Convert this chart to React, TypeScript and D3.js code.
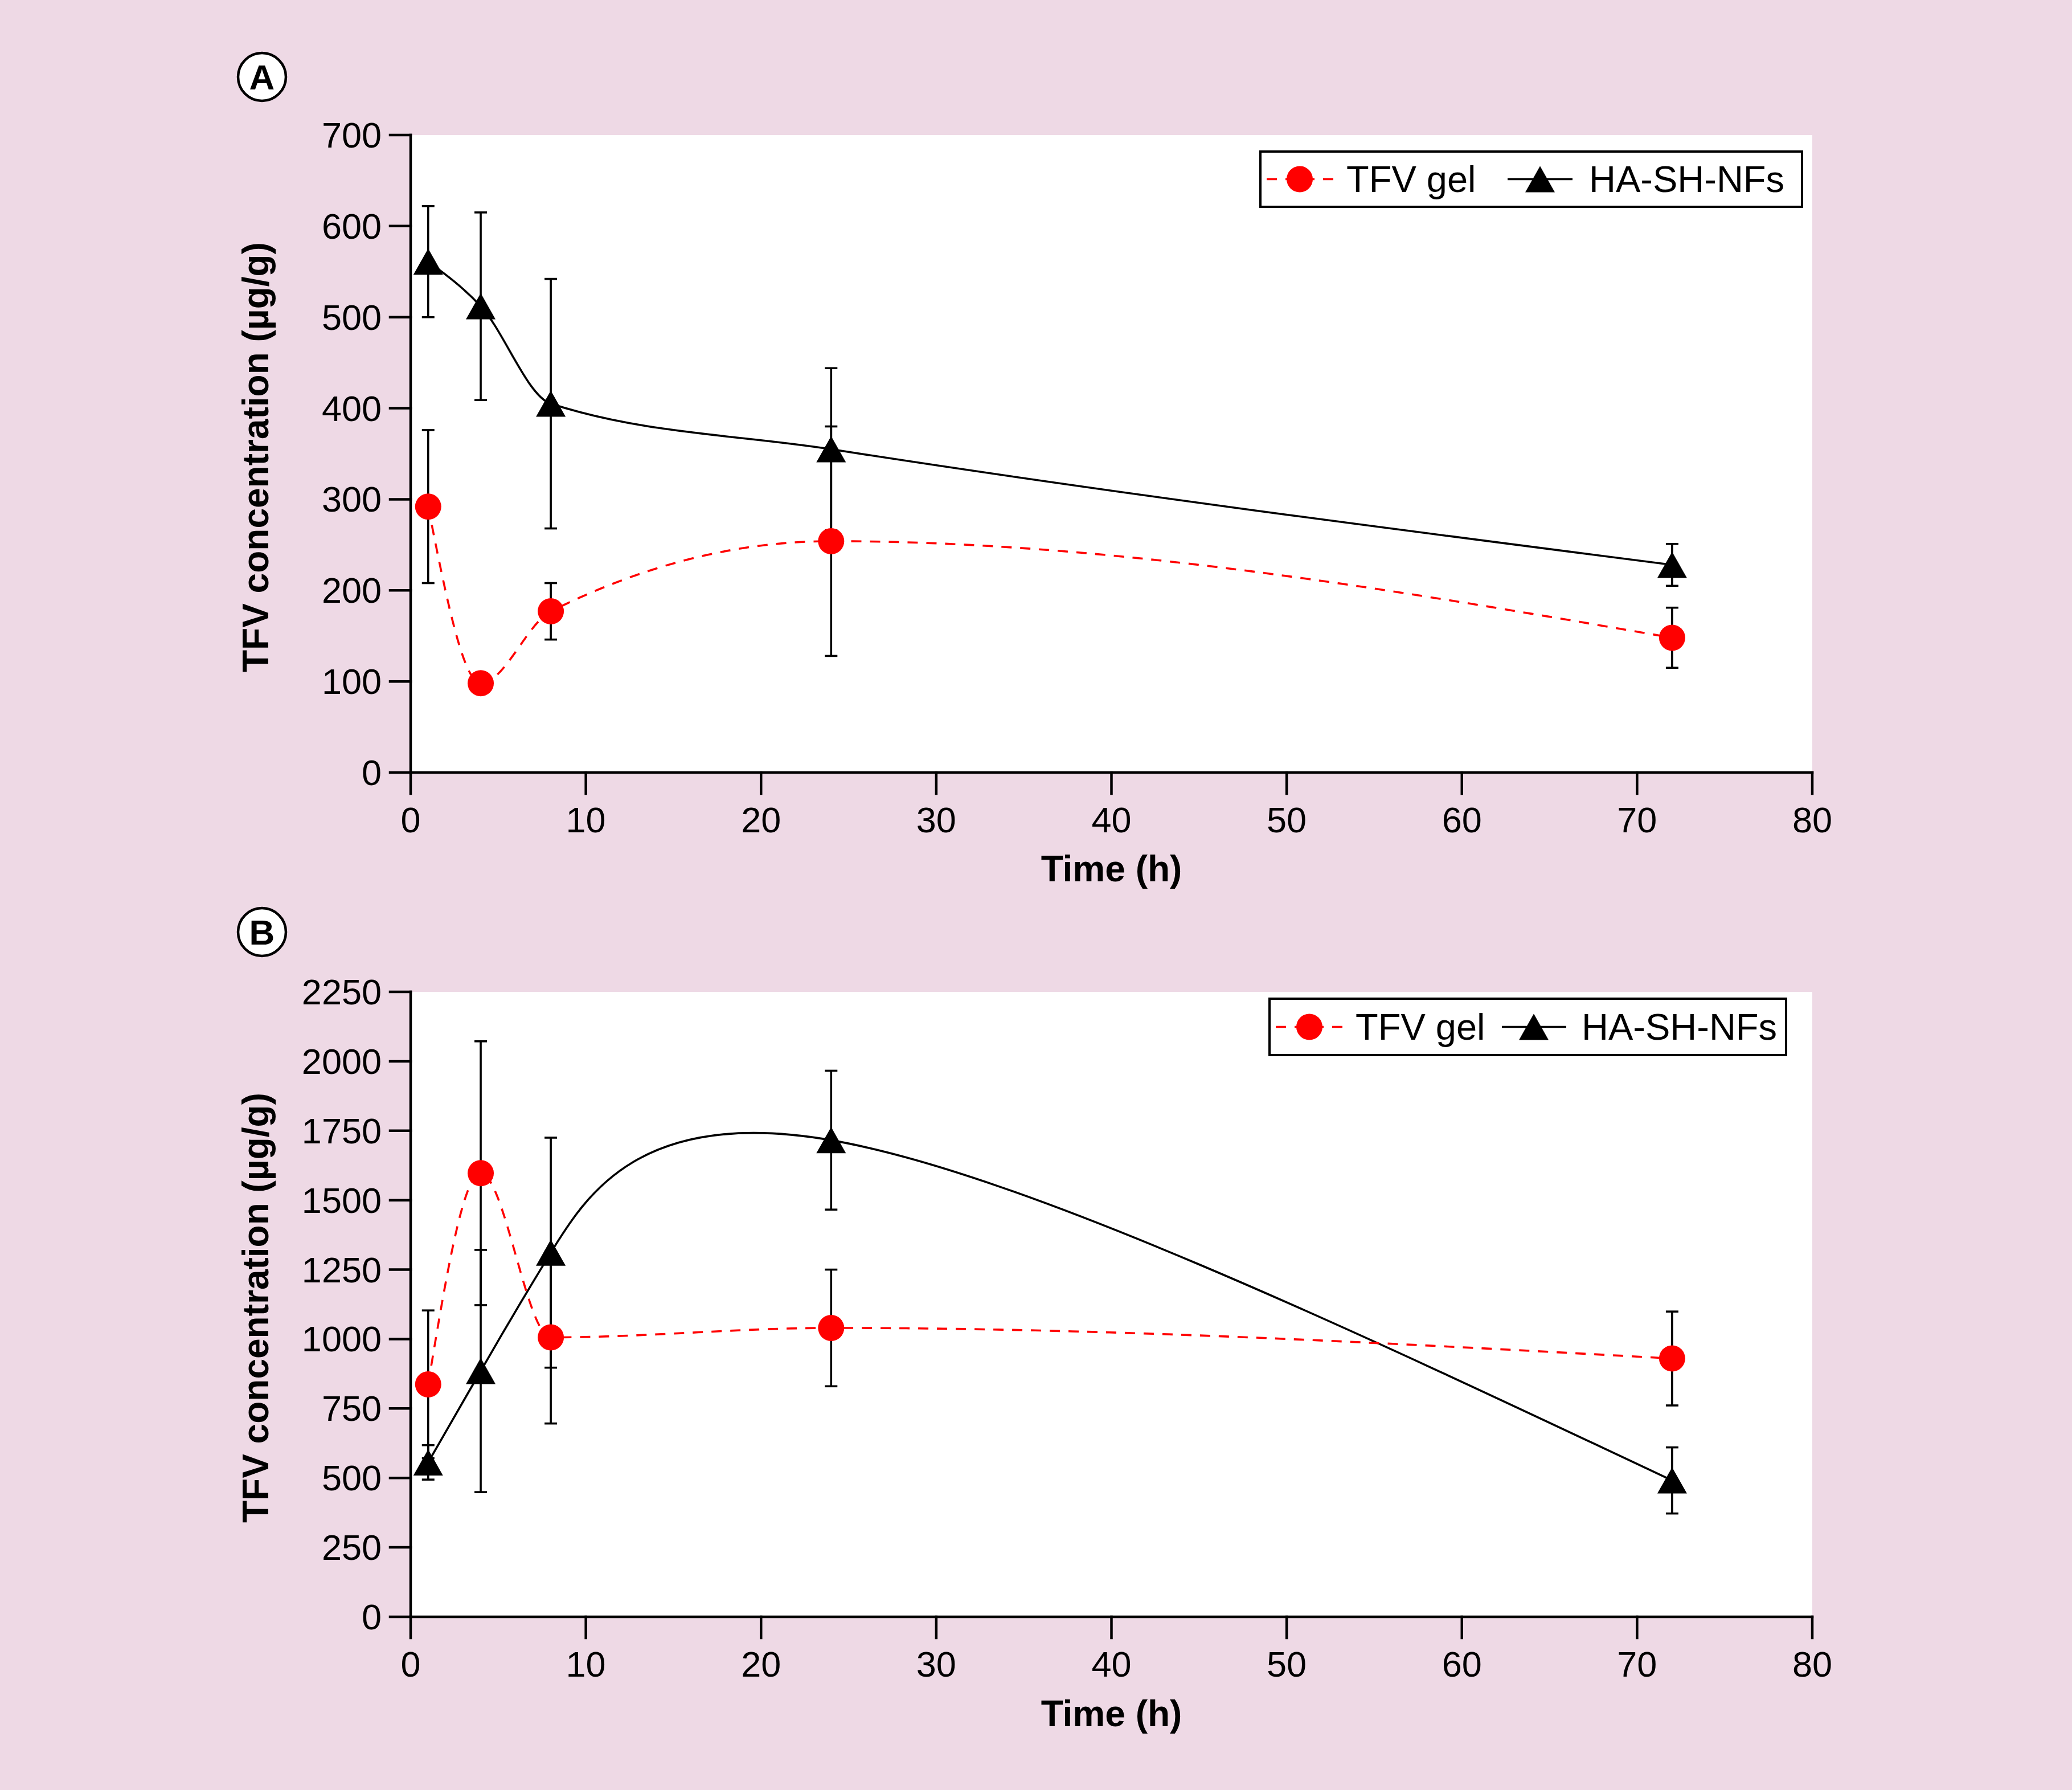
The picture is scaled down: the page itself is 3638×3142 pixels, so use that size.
import React from 'react';
import * as d3 from 'd3';

// ---------- data ----------
const timeA = [1, 4, 8, 24, 72];
const gelA = [292, 98, 177, 254, 148];
const gelAErr = [84, 8, 31, 126, 33];
const nfA = [561, 512, 405, 355, 228];
const nfAErr = [61, 103, 137, 89, 23];

const timeB = [1, 4, 8, 24, 72];
const gelB = [837, 1597, 1006, 1040, 930];
const gelBErr = [266, 475, 310, 210, 169];
const nfB = [556, 885, 1311, 1716, 491];
const nfBErr = [62, 436, 414, 250, 119];

const xTicks = [0, 10, 20, 30, 40, 50, 60, 70, 80];
const yTicksA = [0, 100, 200, 300, 400, 500, 600, 700];
const yTicksB = [0, 250, 500, 750, 1000, 1250, 1500, 1750, 2000, 2250];
const seriesNames = ['TFV gel', 'HA-SH-NFs'];
const panelLabels = ['A', 'B'];
const xTitle = 'Time (h)';
const yTitle = 'TFV concentration (µg/g)';

// ---------- style ----------
const W = 3638;
const H = 3142;
const BG = '#EED9E5';
const RED = '#FF0000';
const FONT = '"Liberation Sans", Arial, Helvetica, sans-serif';
const LEFT = 721;
const RIGHT = 3182;

type PanelProps = {
  top: number;
  bottom: number;
  yMax: number;
  yTicks: number[];
  time: number[];
  gel: number[];
  gelErr: number[];
  nf: number[];
  nfErr: number[];
  gelCurve: any;
  nfCurve: any;
  label: string;
  labelY: number;
  titleY: number;
  legend: { x0: number; x1: number; y0: number; y1: number; redLine: [number, number]; redC: number; redText: number; blkLine: [number, number]; blkC: number; blkText: number; base: number };
};

function Triangle({ cx, cy, w = 52, h = 46 }: { cx: number; cy: number; w?: number; h?: number }) {
  return <path d={`M${cx},${cy - h / 2}L${cx + w / 2},${cy + h / 2}L${cx - w / 2},${cy + h / 2}Z`} fill="#000" />;
}

function Panel(p: PanelProps) {
  const x = d3.scaleLinear().domain([0, 80]).range([LEFT, RIGHT]);
  const y = d3.scaleLinear().domain([0, p.yMax]).range([p.bottom, p.top]);
  const idx = p.time.map((_, i) => i);
  const gelLine = d3.line<number>().x(i => x(p.time[i])).y(i => y(p.gel[i])).curve(p.gelCurve)(idx) || '';
  const nfLine = d3.line<number>().x(i => x(p.time[i])).y(i => y(p.nf[i])).curve(p.nfCurve)(idx) || '';
  const cap = 11;
  const errBar = (vals: number[], errs: number[], key: string) =>
    idx.map(i => {
      const cx = x(p.time[i]);
      const yt = y(vals[i] + errs[i]);
      const yb = y(vals[i] - errs[i]);
      return (
        <g key={key + i} stroke="#000" strokeWidth={3.6}>
          <line x1={cx} x2={cx} y1={yt} y2={yb} />
          <line x1={cx - cap} x2={cx + cap} y1={yt} y2={yt} />
          <line x1={cx - cap} x2={cx + cap} y1={yb} y2={yb} />
        </g>
      );
    });
  const midY = (p.top + p.bottom) / 2;
  const L = p.legend;
  return (
    <g>
      <rect x={LEFT} y={p.top} width={RIGHT - LEFT} height={p.bottom - p.top} fill="#fff" />
      {/* label circle */}
      <circle cx={460} cy={p.labelY} r={42} fill="#fff" stroke="#000" strokeWidth={4.5} />
      <text x={460} y={p.labelY + 22} textAnchor="middle" fontFamily={FONT} fontWeight="bold" fontSize={62}>{p.label}</text>
      {/* axes */}
      <g stroke="#000" strokeWidth={4.5} strokeLinecap="square">
        <line x1={LEFT} x2={LEFT} y1={p.top} y2={p.bottom} />
        <line x1={LEFT} x2={RIGHT} y1={p.bottom} y2={p.bottom} />
        {p.yTicks.map(t => (
          <line key={'yt' + t} x1={LEFT - 36} x2={LEFT} y1={y(t)} y2={y(t)} />
        ))}
        {xTicks.map(t => (
          <line key={'xt' + t} x1={x(t)} x2={x(t)} y1={p.bottom} y2={p.bottom + 37} />
        ))}
      </g>
      <g fontFamily={FONT} fontSize={63} fill="#000">
        {p.yTicks.map(t => (
          <text key={'yl' + t} x={LEFT - 51} y={y(t) + 22} textAnchor="end">{t}</text>
        ))}
        {xTicks.map(t => (
          <text key={'xl' + t} x={x(t)} y={p.bottom + 105} textAnchor="middle">{t}</text>
        ))}
      </g>
      <text x={(LEFT + RIGHT) / 2} y={p.titleY} textAnchor="middle" fontFamily={FONT} fontWeight="bold" fontSize={64}>{xTitle}</text>
      <text transform={`translate(471,${midY + 6}) rotate(-90)`} textAnchor="middle" fontFamily={FONT} fontWeight="bold" fontSize={64}>{yTitle}</text>
      {/* lines */}
      <path d={nfLine} fill="none" stroke="#000" strokeWidth={3.6} />
      <path d={gelLine} fill="none" stroke={RED} strokeWidth={3.6} strokeDasharray="18,15" />
      {/* error bars */}
      {errBar(p.gel, p.gelErr, 'ge')}
      {errBar(p.nf, p.nfErr, 'ne')}
      {/* markers */}
      {idx.map(i => <Triangle key={'tr' + i} cx={x(p.time[i])} cy={y(p.nf[i])} />)}
      {idx.map(i => <circle key={'ci' + i} cx={x(p.time[i])} cy={y(p.gel[i])} r={23} fill={RED} />)}
      {/* legend */}
      <rect x={L.x0} y={L.y0} width={L.x1 - L.x0} height={L.y1 - L.y0} fill="#fff" stroke="#000" strokeWidth={4} />
      <line x1={L.redLine[0]} x2={L.redLine[1]} y1={(L.y0 + L.y1) / 2} y2={(L.y0 + L.y1) / 2} stroke={RED} strokeWidth={3.6} strokeDasharray="18,15" />
      <circle cx={L.redC} cy={(L.y0 + L.y1) / 2} r={23} fill={RED} />
      <text x={L.redText} y={L.base} fontFamily={FONT} fontSize={65}>{seriesNames[0]}</text>
      <line x1={L.blkLine[0]} x2={L.blkLine[1]} y1={(L.y0 + L.y1) / 2} y2={(L.y0 + L.y1) / 2} stroke="#000" strokeWidth={3.6} />
      <Triangle cx={L.blkC} cy={(L.y0 + L.y1) / 2} />
      <text x={L.blkText} y={L.base} fontFamily={FONT} fontSize={65}>{seriesNames[1]}</text>
    </g>
  );
}

export default function App() {
  return (
    <svg width={W} height={H} viewBox={`0 0 ${W} ${H}`} style={{ position: 'absolute', left: 0, top: 0, display: 'block' }}>
      <rect x={0} y={0} width={W} height={H} fill={BG} />
      <Panel
        top={237} bottom={1356} yMax={700} yTicks={yTicksA}
        time={timeA} gel={gelA} gelErr={gelAErr} nf={nfA} nfErr={nfAErr}
        gelCurve={d3.curveMonotoneX} nfCurve={d3.curveMonotoneX}
        label={panelLabels[0]} labelY={135} titleY={1547}
        legend={{ x0: 2213, x1: 3164, y0: 266, y1: 363, redLine: [2224, 2342], redC: 2282, redText: 2364, blkLine: [2647, 2761], blkC: 2704, blkText: 2790, base: 337 }}
      />
      <Panel
        top={1741} bottom={2838} yMax={2250} yTicks={yTicksB}
        time={timeB} gel={gelB} gelErr={gelBErr} nf={nfB} nfErr={nfBErr}
        gelCurve={d3.curveMonotoneX} nfCurve={d3.curveNatural}
        label={panelLabels[1]} labelY={1636} titleY={3030}
        legend={{ x0: 2229, x1: 3136, y0: 1753, y1: 1852, redLine: [2240, 2357], redC: 2299, redText: 2380, blkLine: [2637, 2750], blkC: 2693, blkText: 2777, base: 1825 }}
      />
    </svg>
  );
}
